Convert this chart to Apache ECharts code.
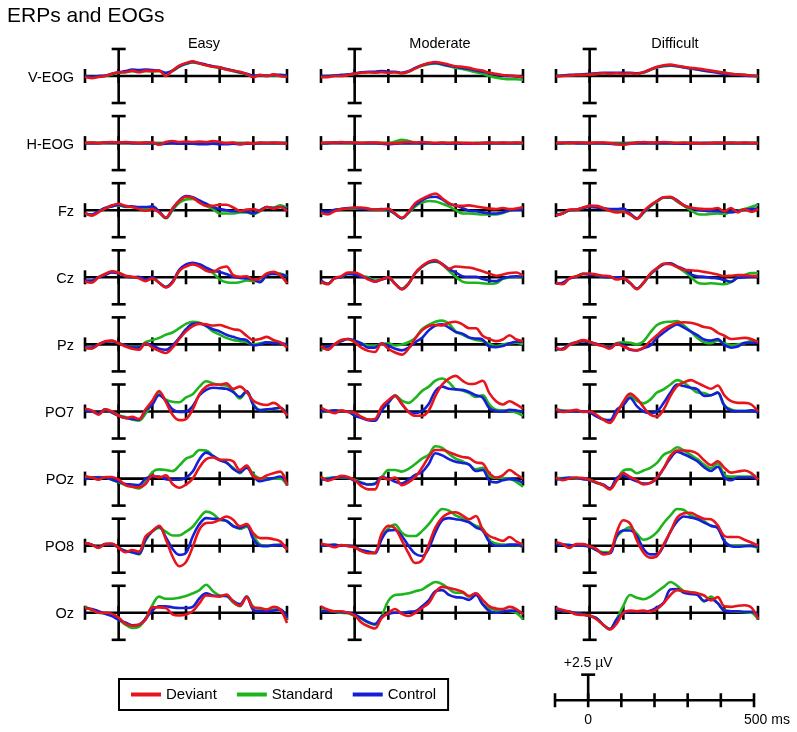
<!DOCTYPE html>
<html>
<head>
<meta charset="utf-8">
<title>ERPs and EOGs</title>
<script src="https://cdn.jsdelivr.net/npm/echarts@6/dist/echarts.min.js"></script>
<style>
  html, body { margin: 0; padding: 0; background: #fff; }
  #chart { width: 797px; height: 732px; }
</style>
</head>
<body>
<div id="chart"></div>
<script>
// sample times (ms) and axis ticks
const times = [-100, -80, -60, -40, -20, 0, 20, 40, 60, 80, 100, 120, 140, 160, 180, 200,
  220, 240, 260, 280, 300, 320, 340, 360, 380, 400, 420, 440, 460, 480, 500];
const xTicks = [-100, 0, 100, 200, 300, 400, 500];
const scaleTicks = [0, 500];
const scaleUv = 2.5;

const channels = ['V-EOG', 'H-EOG', 'Fz', 'Cz', 'Pz', 'PO7', 'POz', 'PO8', 'Oz'];
const conditions = ['Easy', 'Moderate', 'Difficult'];
const groups = ['Deviant', 'Standard', 'Control'];

// amplitudes in µV, one value per sample time
const veogEasyDev = [-0.1,-0.2,-0.1,0.0,0.2,0.35,0.35,0.5,0.35,0.5,0.45,0.5,0.0,0.5,0.95,1.2,1.35,1.15,1.0,0.85,0.8,0.6,0.5,0.4,0.2,-0.1,0.1,0.0,0.15,0.0,-0.1];
const veogEasyStd = [-0.05,-0.1,-0.05,0.0,0.15,0.3,0.35,0.45,0.4,0.45,0.45,0.45,0.2,0.45,0.85,1.1,1.25,1.15,1.0,0.85,0.75,0.6,0.45,0.3,0.15,0.0,0.05,0.0,0.05,0.0,-0.05];
const veogEasyCon = [0.0,-0.1,0.0,0.05,0.2,0.35,0.45,0.6,0.55,0.6,0.55,0.5,0.3,0.5,0.9,1.15,1.3,1.2,1.05,0.9,0.8,0.65,0.5,0.35,0.2,0.05,0.05,0.05,0.1,0.1,0.05];
const veogModDev = [-0.1,-0.1,0.0,0.0,0.1,0.2,0.3,0.35,0.3,0.35,0.3,0.35,0.25,0.4,0.7,1.0,1.2,1.3,1.2,1.05,0.9,0.85,0.75,0.6,0.5,0.3,0.2,0.1,0.05,0.0,-0.1];
const veogModStd = [-0.05,0.0,0.05,0.05,0.1,0.2,0.3,0.35,0.35,0.4,0.35,0.35,0.25,0.4,0.7,0.95,1.1,1.15,1.05,0.9,0.75,0.65,0.5,0.35,0.2,0.0,-0.15,-0.25,-0.3,-0.3,-0.35];
const veogModCon = [0.0,0.0,0.05,0.1,0.15,0.25,0.35,0.4,0.4,0.45,0.4,0.4,0.3,0.45,0.75,1.0,1.15,1.2,1.1,0.95,0.85,0.75,0.65,0.5,0.4,0.25,0.15,0.05,0.0,-0.05,-0.1];
const veogDifDev = [-0.05,0.0,0.05,0.1,0.1,0.15,0.2,0.25,0.2,0.25,0.2,0.25,0.2,0.35,0.6,0.85,1.0,1.05,0.95,0.85,0.75,0.7,0.6,0.5,0.4,0.3,0.2,0.15,0.1,0.05,0.0];
const veogDifStd = [0.0,0.05,0.05,0.1,0.1,0.15,0.2,0.25,0.25,0.25,0.25,0.25,0.2,0.3,0.55,0.8,0.9,0.95,0.9,0.8,0.7,0.6,0.5,0.45,0.4,0.3,0.2,0.15,0.1,0.05,-0.1];
const veogDifCon = [0.0,0.05,0.1,0.1,0.15,0.2,0.25,0.3,0.3,0.3,0.3,0.3,0.25,0.35,0.6,0.8,0.95,1.0,0.9,0.8,0.7,0.6,0.5,0.4,0.3,0.2,0.15,0.1,0.05,0.0,0.0];

const heogEasyDev = [0.0,0.05,0.0,0.05,0.1,0.05,0.1,0.05,0.0,0.05,0.05,-0.15,0.1,0.2,0.1,0.15,0.1,0.15,0.1,0.2,0.1,0.0,0.05,-0.1,0.0,-0.05,0.05,0.0,0.05,0.0,-0.05];
const heogEasyStd = [0.0,0.05,0.0,0.05,0.05,0.05,0.05,0.0,0.0,0.05,0.0,-0.05,0.0,0.05,0.0,0.0,0.0,0.0,-0.05,0.0,-0.05,-0.05,0.0,-0.05,0.0,-0.05,0.0,0.0,0.0,0.0,0.0];
const heogEasyCon = [0.0,0.0,0.0,0.05,0.05,0.05,0.05,0.0,0.0,0.0,0.0,-0.1,-0.05,0.0,-0.05,-0.05,-0.05,-0.1,-0.1,-0.05,-0.1,-0.1,-0.05,-0.1,-0.05,-0.05,0.0,0.0,0.0,0.0,0.0];
const heogModDev = [0.0,0.05,0.05,0.1,0.05,0.05,0.0,0.05,0.05,0.0,-0.05,0.0,0.05,0.1,0.05,0.1,0.05,0.0,0.05,0.0,0.05,0.0,0.0,-0.05,0.0,0.05,0.0,0.05,0.0,0.05,0.0];
const heogModStd = [0.0,0.0,0.05,0.05,0.0,0.0,0.0,0.0,0.0,0.0,0.0,0.15,0.3,0.2,0.05,0.0,0.0,-0.05,0.0,0.0,0.0,0.0,-0.05,0.0,0.0,0.0,0.0,0.0,0.0,0.0,0.0];
const heogModCon = [0.0,0.0,0.05,0.05,0.05,0.0,0.0,0.0,0.0,-0.05,-0.1,-0.05,0.0,0.0,0.0,0.0,0.0,-0.05,0.0,-0.05,0.0,-0.05,-0.05,-0.05,0.0,0.0,0.0,0.0,0.0,0.0,0.0];
const heogDifDev = [0.0,0.05,0.0,0.05,0.05,0.0,0.05,0.05,0.0,-0.1,-0.15,-0.05,0.05,0.1,0.05,0.05,0.1,0.05,0.0,0.05,0.0,0.0,-0.05,0.0,0.05,0.0,0.05,0.0,0.05,0.0,0.0];
const heogDifStd = [0.0,0.0,0.0,0.05,0.0,0.0,0.0,0.0,-0.05,-0.05,-0.05,0.0,0.05,0.05,0.0,0.0,0.0,0.0,0.0,0.0,0.0,-0.05,0.0,0.0,0.0,0.0,0.0,0.0,0.0,0.0,0.0];
const heogDifCon = [0.0,0.0,0.05,0.0,0.0,0.0,0.0,0.0,-0.05,-0.1,-0.1,-0.05,0.0,0.0,0.0,0.0,0.0,0.0,-0.05,-0.05,0.0,0.0,0.0,0.0,0.0,0.0,0.0,0.0,0.0,0.0,0.0];

const fzEasyDev = [-0.25,-0.5,-0.2,0.15,0.45,0.6,0.4,0.3,0.1,-0.05,0.1,-0.2,-0.7,0.2,0.85,1.25,1.15,0.7,0.4,0.4,0.5,0.5,0.25,-0.05,0.05,0.1,-0.05,0.3,0.15,0.3,-0.1];
const fzEasyStd = [-0.3,-0.45,-0.1,0.2,0.4,0.45,0.3,0.3,0.2,0.15,0.2,-0.2,-0.75,0.0,0.7,1.0,1.05,0.8,0.4,0.1,-0.3,-0.3,-0.3,-0.2,-0.2,-0.35,-0.1,0.3,0.25,0.45,0.2];
const fzEasyCon = [-0.3,-0.4,-0.1,0.2,0.35,0.5,0.35,0.35,0.3,0.3,0.35,-0.1,-0.7,0.1,0.9,1.3,1.2,0.9,0.6,0.3,0.1,0.0,-0.1,-0.1,-0.15,-0.3,0.0,0.3,0.2,0.3,0.1];
const fzModDev = [-0.25,-0.4,-0.1,0.1,0.15,0.25,0.25,0.15,0.05,0.05,0.15,-0.3,-0.7,-0.15,0.65,1.05,1.35,1.55,1.1,0.65,0.4,0.4,0.45,0.35,0.25,0.15,0.1,0.2,0.1,0.15,0.3];
const fzModStd = [-0.3,-0.3,0.0,0.1,0.15,0.15,0.15,0.1,0.0,0.05,0.0,-0.35,-0.75,-0.25,0.35,0.7,0.85,0.8,0.6,0.35,0.0,-0.3,-0.3,-0.35,-0.4,-0.4,-0.4,-0.25,-0.05,0.1,0.1];
const fzModCon = [-0.1,-0.15,0.05,0.1,0.2,0.2,0.15,0.1,0.05,0.1,0.05,-0.35,-0.75,-0.2,0.5,0.9,1.2,1.25,1.0,0.6,0.45,0.2,-0.05,-0.1,-0.2,-0.3,-0.3,-0.2,0.0,0.05,0.05];
const fzDifDev = [-0.5,-0.3,0.05,0.05,0.25,0.4,0.4,0.2,-0.05,-0.2,-0.15,-0.4,-0.8,-0.1,0.45,0.85,1.2,1.25,0.85,0.45,0.25,0.15,0.1,0.1,0.2,-0.1,0.2,-0.2,0.1,-0.15,0.1];
const fzDifStd = [-0.45,-0.3,0.0,0.05,0.2,0.4,0.35,0.2,0.05,0.0,0.05,-0.35,-0.8,-0.25,0.35,0.8,1.15,1.15,0.8,0.4,0.0,-0.35,-0.4,-0.35,-0.3,-0.35,-0.15,-0.05,0.1,0.3,0.5];
const fzDifCon = [-0.4,-0.3,0.0,0.05,0.2,0.3,0.25,0.15,0.1,0.1,0.15,-0.3,-0.75,-0.2,0.4,0.85,1.2,1.2,0.9,0.45,0.2,0.05,-0.05,-0.1,-0.1,-0.15,-0.2,-0.1,0.05,0.1,0.15];

const czEasyDev = [-0.4,-0.5,0.0,0.3,0.55,0.4,0.15,0.05,-0.1,-0.35,-0.1,-0.5,-0.95,-0.5,0.6,1.0,1.2,1.0,0.6,0.5,0.85,1.0,0.2,0.05,0.1,-0.25,-0.1,0.35,0.5,0.2,-0.55];
const czEasyStd = [-0.35,-0.4,0.0,0.3,0.5,0.45,0.1,0.0,0.0,-0.25,-0.1,-0.5,-0.9,-0.45,0.6,1.1,1.3,1.15,0.8,0.4,-0.2,-0.45,-0.5,-0.45,-0.3,-0.35,-0.35,0.2,0.4,0.35,0.1];
const czEasyCon = [-0.3,-0.3,0.0,0.2,0.45,0.35,0.1,0.0,0.05,-0.2,0.0,-0.5,-0.9,-0.4,0.7,1.2,1.35,1.2,0.9,0.6,0.5,0.3,0.05,-0.05,-0.1,-0.2,-0.45,0.2,0.3,0.25,0.1];
const czModDev = [-0.4,-0.65,-0.1,0.1,0.45,0.45,0.2,-0.2,-0.4,-0.2,0.0,-0.6,-1.1,-0.6,0.4,1.05,1.45,1.6,1.2,0.8,1.0,0.95,0.9,0.75,0.55,0.35,0.15,0.25,0.4,0.45,0.15];
const czModStd = [-0.45,-0.6,-0.1,0.0,0.3,0.3,0.1,0.0,-0.3,-0.2,0.0,-0.6,-1.05,-0.55,0.35,0.95,1.35,1.45,1.2,0.6,0.05,-0.4,-0.5,-0.5,-0.55,-0.6,-0.55,-0.15,0.0,0.05,0.0];
const czModCon = [-0.3,-0.6,-0.1,0.0,0.3,0.25,0.05,-0.1,-0.4,-0.2,-0.05,-0.6,-1.1,-0.6,0.4,1.0,1.4,1.5,1.25,0.75,0.45,0.1,0.05,0.05,-0.15,-0.3,-0.35,-0.1,0.05,0.1,0.05];
const czDifDev = [-0.5,-0.65,-0.1,0.1,0.3,0.35,0.25,0.15,0.1,-0.2,-0.1,-0.5,-1.1,-0.5,0.35,0.85,1.25,1.2,0.95,0.7,0.65,0.6,0.5,0.4,0.25,0.1,0.15,0.2,0.2,0.15,0.1];
const czDifStd = [-0.55,-0.55,-0.1,0.05,0.35,0.3,0.2,0.05,0.0,-0.1,-0.1,-0.5,-1.05,-0.55,0.25,0.8,1.25,1.25,0.95,0.55,0.05,-0.5,-0.6,-0.55,-0.6,-0.65,-0.45,0.0,0.2,0.4,0.4];
const czDifCon = [-0.6,-0.5,-0.1,0.05,0.3,0.25,0.2,0.05,0.0,0.0,-0.1,-0.55,-1.05,-0.5,0.3,0.8,1.2,1.3,1.0,0.75,0.3,0.1,0.05,-0.05,-0.1,-0.25,-0.4,-0.05,0.0,0.05,0.05];

const pzEasyDev = [-0.3,-0.4,0.0,0.3,0.35,0.1,-0.2,-0.4,-0.5,0.1,-0.3,-0.6,-0.8,-0.3,0.5,1.2,1.7,1.9,1.85,1.75,1.8,1.6,1.4,1.3,0.8,0.4,0.5,0.7,0.4,0.2,-0.3];
const pzEasyStd = [-0.35,-0.35,0.0,0.25,0.3,0.1,-0.1,-0.25,-0.25,0.2,0.4,0.6,0.9,1.1,1.5,1.9,2.1,2.0,1.7,1.2,0.9,0.6,0.4,0.3,0.2,0.0,0.1,0.2,0.2,0.1,-0.1];
const pzEasyCon = [-0.3,-0.3,0.0,0.25,0.3,0.1,-0.1,-0.3,-0.3,0.1,-0.1,-0.4,-0.5,-0.1,0.6,1.4,1.9,1.95,1.7,1.4,1.2,0.9,0.7,0.5,0.4,-0.1,0.0,0.2,0.1,0.1,0.0];
const pzModDev = [-0.15,-0.5,0.0,0.4,0.5,0.2,-0.3,-0.6,-0.7,0.1,-0.4,-0.75,-0.95,-0.4,0.55,1.3,1.7,1.8,1.75,2.0,2.1,1.85,1.5,1.5,0.8,0.5,0.3,0.45,0.85,0.45,0.3];
const pzModStd = [-0.45,-0.3,0.0,0.3,0.5,0.3,0.1,-0.1,-0.1,0.0,0.1,-0.1,0.0,0.2,0.6,1.4,1.8,2.1,2.2,1.9,1.2,0.9,0.6,0.4,0.3,0.05,-0.15,0.0,0.1,0.15,0.0];
const pzModCon = [-0.3,-0.2,0.0,0.3,0.5,0.35,0.1,-0.3,-0.3,0.1,-0.1,-0.4,-0.55,-0.3,0.2,0.6,1.3,1.75,1.85,1.55,1.15,1.0,0.65,0.55,0.45,-0.2,-0.25,-0.15,0.1,0.25,0.25];
const pzDifDev = [-0.3,-0.5,-0.05,0.2,0.4,0.25,0.0,-0.15,-0.4,0.05,-0.2,-0.45,-0.55,-0.3,0.3,0.85,1.4,1.75,2.0,2.05,2.0,1.85,1.6,1.5,1.1,0.8,0.5,0.55,0.6,0.5,0.2];
const pzDifStd = [-0.45,-0.4,0.0,0.15,0.3,0.2,0.0,-0.1,-0.3,0.1,0.2,0.15,0.0,0.3,1.1,1.8,2.05,2.1,2.15,1.75,1.2,0.6,0.2,0.1,0.35,0.1,-0.05,0.0,0.1,0.3,0.25];
const pzDifCon = [-0.45,-0.4,0.0,0.2,0.3,0.2,0.05,-0.15,-0.3,0.05,-0.05,-0.5,-0.55,-0.35,-0.1,0.6,1.1,1.55,1.85,1.55,1.2,0.85,0.45,0.35,0.5,-0.05,-0.3,-0.2,0.15,0.15,0.15];

const po7EasyDev = [0.25,0.1,-0.3,0.2,0.0,-0.4,-0.6,-0.5,-0.7,0.2,1.0,1.9,0.9,-0.3,-0.8,-0.7,0.2,1.6,2.3,2.5,2.5,2.6,2.1,2.3,1.8,1.0,0.7,0.6,0.8,0.4,-0.4];
const po7EasyStd = [0.2,0.05,-0.2,0.15,-0.05,-0.35,-0.5,-0.75,-0.85,-0.2,0.8,1.7,1.1,0.9,0.85,1.3,1.6,2.3,2.8,2.6,2.45,2.4,1.9,1.2,1.85,0.7,0.15,0.15,0.25,0.35,-0.35];
const po7EasyCon = [0.1,0.0,-0.15,0.2,-0.1,-0.4,-0.6,-0.7,-0.75,0.1,0.65,1.5,1.0,0.2,-0.05,0.0,0.5,1.5,2.0,2.2,2.15,2.1,1.8,1.35,1.9,0.6,0.1,0.2,0.25,0.35,-0.3];
const po7ModDev = [0.35,0.05,-0.15,0.1,-0.05,-0.1,-0.5,-0.75,-0.7,0.45,1.05,1.45,0.7,-0.05,-0.4,-0.4,0.1,1.45,2.5,3.05,3.3,2.85,2.55,2.6,2.85,1.7,0.95,0.65,0.95,0.65,0.25];
const po7ModStd = [-0.05,0.0,0.1,0.05,0.0,-0.3,-0.5,-0.75,-0.8,0.2,0.85,1.5,1.0,0.8,1.25,1.9,2.3,2.85,3.05,2.7,2.05,1.95,1.7,1.35,1.5,0.65,0.15,0.1,0.05,-0.1,-0.4];
const po7ModCon = [0.0,0.05,0.1,0.05,0.0,-0.4,-0.6,-0.8,-0.85,0.1,0.8,1.45,0.7,0.0,-0.15,0.05,0.7,1.9,2.3,2.1,2.05,2.0,1.8,1.5,1.3,0.3,0.05,0.0,0.15,0.1,0.0];
const po7DifDev = [0.25,-0.05,0.05,0.15,-0.05,0.0,-0.3,-0.75,-1.05,-0.2,0.9,1.65,1.2,0.4,-0.3,-0.45,0.2,1.45,2.35,2.7,2.9,2.65,2.35,2.1,2.4,1.5,0.95,0.8,0.8,0.65,0.0];
const po7DifStd = [0.2,0.1,0.05,0.0,0.0,-0.05,-0.4,-0.7,-0.9,-0.1,0.85,1.45,1.0,0.75,1.1,1.75,2.05,2.5,2.9,2.65,2.2,1.75,1.7,1.5,1.75,0.55,0.2,0.05,0.05,0.1,-0.05];
const po7DifCon = [0.1,0.05,0.05,0.0,0.0,-0.1,-0.45,-0.75,-0.8,0.15,0.6,1.25,0.5,0.0,-0.15,0.0,0.8,1.75,2.5,2.35,2.2,2.05,1.45,1.5,1.75,0.55,0.1,0.05,0.05,0.1,-0.1];

const pozEasyDev = [0.25,0.1,-0.1,0.15,0.15,-0.1,-0.6,-0.75,-0.8,-0.5,0.3,0.1,0.3,-0.5,-0.85,-0.55,0.0,1.05,1.8,1.95,1.75,1.75,1.6,0.8,1.2,0.2,0.0,0.3,0.5,0.65,-0.6];
const pozEasyStd = [0.0,0.1,0.15,0.1,-0.1,-0.35,-0.6,-0.75,-0.9,-0.35,0.6,0.85,0.8,0.7,1.2,1.85,2.1,2.65,2.6,2.1,1.75,1.45,1.0,0.5,1.15,0.4,0.0,-0.05,0.0,0.0,-0.6];
const pozEasyCon = [-0.1,0.1,0.1,0.1,-0.1,-0.3,-0.5,-0.55,-0.6,0.0,0.2,0.2,-0.05,-0.1,-0.1,0.1,0.65,1.8,2.4,2.1,1.7,1.5,0.9,0.6,1.0,0.2,-0.25,-0.1,0.05,0.2,-0.45];
const pozModDev = [0.2,-0.2,0.0,0.25,0.15,-0.15,-0.7,-1.0,-1.0,0.15,-0.1,0.1,-0.6,-0.35,0.15,1.0,2.0,2.65,2.65,2.45,2.2,2.0,1.9,1.5,1.4,0.5,0.1,0.3,0.8,0.4,0.0];
const pozModStd = [0.0,0.05,0.1,0.1,0.05,-0.1,-0.35,-0.55,-0.45,0.1,0.8,0.8,0.65,0.9,1.35,1.85,2.2,3.0,2.85,2.3,1.85,1.6,1.3,0.85,1.0,0.25,0.05,0.05,0.0,-0.3,-0.75];
const pozModCon = [-0.1,-0.05,0.1,0.15,0.1,-0.2,-0.4,-0.55,-0.5,0.15,0.0,-0.3,-0.45,-0.1,0.35,0.6,1.35,2.35,2.15,1.8,1.55,1.45,1.3,0.7,0.8,-0.2,-0.35,-0.15,-0.05,-0.1,-0.4];
const pozDifDev = [0.1,-0.15,0.0,0.1,0.05,-0.1,-0.35,-0.6,-1.0,-0.2,0.5,0.15,-0.15,-0.55,-0.4,0.1,0.95,2.1,2.6,2.6,2.55,2.3,1.7,1.25,1.6,1.0,0.55,0.65,0.75,0.5,-0.1];
const pozDifStd = [0.05,0.05,0.05,0.0,0.0,-0.1,-0.35,-0.6,-0.95,-0.15,0.75,0.85,0.5,0.75,1.0,1.45,2.2,2.5,2.9,2.6,2.2,1.8,1.3,0.95,1.4,0.35,0.2,0.2,0.2,0.2,-0.1];
const pozDifCon = [-0.1,0.0,0.1,0.05,-0.05,-0.15,-0.4,-0.55,-0.9,0.05,0.3,0.0,-0.25,-0.45,-0.4,0.05,0.95,1.9,2.5,2.25,1.95,1.6,1.05,0.7,1.1,0.1,-0.15,0.1,0.1,0.1,-0.1];

const po8EasyDev = [0.25,0.1,-0.2,0.15,0.2,-0.2,-0.6,-0.4,-0.55,0.85,1.35,1.85,0.6,-1.0,-1.9,-1.5,-0.1,1.5,2.1,2.15,2.4,2.7,2.4,1.8,2.0,1.15,0.7,0.7,0.6,0.4,-0.4];
const po8EasyStd = [0.25,0.1,-0.15,0.15,0.15,-0.2,-0.5,-0.6,-0.8,0.5,1.3,1.65,1.3,0.95,0.95,1.3,1.75,2.55,3.15,2.95,2.4,2.3,1.85,1.55,1.75,0.95,0.1,0.0,0.05,0.1,-0.25];
const po8EasyCon = [0.25,0.1,-0.15,0.15,0.15,-0.2,-0.5,-0.6,-0.75,0.6,1.35,1.75,0.8,-0.3,-0.85,-0.65,0.85,2.0,2.55,2.5,2.45,2.3,1.8,1.65,1.9,0.6,0.0,-0.05,0.05,0.05,-0.25];
const po8ModDev = [0.2,0.05,-0.15,0.05,-0.05,-0.15,-0.5,-0.7,-0.65,1.1,1.85,1.6,0.5,-0.7,-1.6,-1.35,0.1,1.7,2.6,3.0,3.1,2.8,2.45,2.75,1.5,0.9,0.65,0.45,0.8,0.4,0.1];
const po8ModStd = [0.05,0.05,0.05,0.0,0.0,-0.15,-0.45,-0.55,-0.65,0.75,1.6,1.95,1.2,0.9,0.9,1.35,2.0,2.8,3.4,3.25,2.8,2.55,2.2,1.85,1.6,0.5,0.2,0.1,0.05,0.05,-0.1];
const po8ModCon = [0.0,0.05,0.1,0.0,0.0,-0.15,-0.4,-0.55,-0.7,0.6,1.4,1.45,0.9,0.0,-0.75,-0.95,-0.25,1.25,2.35,2.55,2.45,2.35,2.15,1.7,1.4,0.35,0.0,0.0,0.1,0.1,-0.05];
const po8DifDev = [0.35,0.15,-0.2,0.15,0.15,-0.05,-0.3,-0.8,-0.65,1.2,2.35,2.05,0.5,-0.65,-1.1,-0.95,0.15,1.3,2.6,3.0,3.05,2.75,2.5,2.45,1.9,0.9,0.8,0.8,0.55,0.3,0.0];
const po8DifStd = [0.2,0.1,0.05,0.0,0.0,-0.1,-0.4,-0.6,-0.55,0.8,1.4,1.7,1.1,0.55,0.75,1.25,2.1,2.8,3.4,3.3,2.8,2.55,2.25,1.85,1.7,0.45,0.0,0.0,0.0,-0.05,-0.2];
const po8DifCon = [0.15,0.1,0.05,0.0,0.0,-0.1,-0.4,-0.7,-0.7,0.9,1.4,1.4,0.9,-0.3,-0.8,-0.8,0.0,1.3,2.25,2.7,2.6,2.45,2.15,1.85,1.65,0.4,-0.05,-0.1,-0.05,0.0,-0.1];

const ozEasyDev = [0.45,0.3,0.0,0.0,-0.1,-0.45,-1.0,-1.2,-1.1,-0.65,0.5,0.5,0.45,-0.15,-0.25,-0.15,0.15,0.9,1.6,1.55,1.5,1.7,1.05,0.65,1.45,0.5,0.45,0.3,0.55,0.3,-0.95];
const ozEasyStd = [0.6,0.25,0.0,-0.05,-0.15,-0.6,-1.1,-1.4,-1.3,-0.55,0.7,1.5,1.3,1.3,1.4,1.55,1.8,2.1,2.6,2.0,1.6,1.55,0.95,0.6,1.5,0.55,0.35,0.3,0.3,0.3,-0.6];
const ozEasyCon = [0.45,0.35,0.15,-0.1,-0.3,-0.65,-0.9,-1.15,-1.1,-0.55,0.2,0.6,0.6,0.5,0.45,0.45,0.55,1.35,1.8,1.6,1.55,1.55,1.1,0.8,1.5,0.25,0.15,0.15,0.2,0.3,-0.5];
const ozModDev = [0.6,0.3,0.15,0.15,0.0,-0.25,-0.9,-1.25,-1.45,-0.5,0.0,0.35,-0.1,-0.3,0.0,0.45,0.9,1.9,2.4,2.3,2.15,1.95,1.55,1.8,1.2,0.6,0.4,0.35,0.55,0.35,-0.15];
const ozModStd = [0.3,0.2,0.1,0.0,-0.05,-0.3,-0.55,-0.9,-1.1,-0.3,1.1,1.65,1.7,1.8,2.0,2.15,2.55,2.85,2.65,2.2,1.85,1.85,1.5,1.75,0.8,0.4,0.25,0.2,0.15,0.0,-0.6];
const ozModCon = [0.15,0.15,0.15,0.05,0.0,-0.15,-0.5,-0.85,-1.05,-0.35,-0.1,0.0,0.0,0.1,0.15,0.6,1.15,2.0,2.1,1.65,1.45,1.4,1.2,1.65,0.8,0.15,0.0,0.1,0.2,0.2,-0.1];
const ozDifDev = [0.45,0.25,0.1,-0.15,-0.2,-0.25,-0.6,-1.1,-1.55,-1.0,0.0,0.2,0.15,0.2,0.1,0.35,0.9,1.65,2.1,2.0,1.9,1.8,1.6,1.15,1.45,0.6,0.55,0.65,0.7,0.5,-0.55];
const ozDifStd = [0.3,0.15,0.1,-0.05,-0.15,-0.3,-0.5,-1.1,-1.5,-0.6,0.65,1.65,1.4,1.25,1.5,1.95,2.4,2.85,2.5,2.0,1.9,1.8,1.05,1.5,0.9,0.25,0.15,0.1,0.05,0.0,-0.6];
const ozDifCon = [0.3,0.15,0.1,-0.05,-0.15,-0.3,-0.5,-1.1,-1.5,-0.6,-0.05,0.1,0.15,0.1,0.2,0.5,0.95,2.15,2.2,1.85,1.75,1.65,1.1,1.25,0.9,0.2,0.15,0.15,0.1,0.1,-0.15];

// channel -> [easy, moderate, difficult] -> [deviant, standard, control]
const waves = {
  'V-EOG': [[veogEasyDev, veogEasyStd, veogEasyCon], [veogModDev, veogModStd, veogModCon], [veogDifDev, veogDifStd, veogDifCon]],
  'H-EOG': [[heogEasyDev, heogEasyStd, heogEasyCon], [heogModDev, heogModStd, heogModCon], [heogDifDev, heogDifStd, heogDifCon]],
  'Fz': [[fzEasyDev, fzEasyStd, fzEasyCon], [fzModDev, fzModStd, fzModCon], [fzDifDev, fzDifStd, fzDifCon]],
  'Cz': [[czEasyDev, czEasyStd, czEasyCon], [czModDev, czModStd, czModCon], [czDifDev, czDifStd, czDifCon]],
  'Pz': [[pzEasyDev, pzEasyStd, pzEasyCon], [pzModDev, pzModStd, pzModCon], [pzDifDev, pzDifStd, pzDifCon]],
  'PO7': [[po7EasyDev, po7EasyStd, po7EasyCon], [po7ModDev, po7ModStd, po7ModCon], [po7DifDev, po7DifStd, po7DifCon]],
  'POz': [[pozEasyDev, pozEasyStd, pozEasyCon], [pozModDev, pozModStd, pozModCon], [pozDifDev, pozDifStd, pozDifCon]],
  'PO8': [[po8EasyDev, po8EasyStd, po8EasyCon], [po8ModDev, po8ModStd, po8ModCon], [po8DifDev, po8DifStd, po8DifCon]],
  'Oz': [[ozEasyDev, ozEasyStd, ozEasyCon], [ozModDev, ozModStd, ozModCon], [ozDifDev, ozDifStd, ozDifCon]],
};

const colors = ['#e8141c', '#1db41d', '#1420d8'];
const font = "'Liberation Sans', Arial, sans-serif";

// layout
const colLeft = [85, 321, 556];
const panelW = 202;
const firstBase = 76;
const rowStep = 67.1;
const halfH = 33.5;
const yLim = 3.1;
const axisW = 2.6;

let myChart = null;

function frameRender(full) {
  return function (params, api) {
    const st = { stroke: '#000', lineWidth: axisW };
    const kids = [];
    const a = api.coord([xTicks[0], 0]);
    const b = api.coord([xTicks[xTicks.length - 1], 0]);
    kids.push({ type: 'line', shape: { x1: a[0], y1: a[1], x2: b[0], y2: b[1] }, style: st });
    xTicks.forEach((t) => {
      const p = api.coord([t, 0]);
      kids.push({ type: 'line', shape: { x1: p[0], y1: p[1] - 7, x2: p[0], y2: p[1] + 7 }, style: st });
    });
    const top = api.coord([0, scaleUv]);
    const bot = api.coord([0, full ? -scaleUv : 0]);
    kids.push({ type: 'line', shape: { x1: top[0], y1: top[1], x2: bot[0], y2: bot[1] }, style: st });
    kids.push({ type: 'line', shape: { x1: top[0] - 7, y1: top[1], x2: top[0] + 7, y2: top[1] }, style: st });
    if (full) {
      kids.push({ type: 'line', shape: { x1: bot[0] - 7, y1: bot[1], x2: bot[0] + 7, y2: bot[1] }, style: st });
    } else {
      kids.push({
        type: 'text', x: top[0], y: top[1] - 5,
        style: { text: '+' + scaleUv + ' µV', textAlign: 'center', textVerticalAlign: 'bottom', font: '14px ' + font, fill: '#000' },
      });
      const z0 = api.coord([scaleTicks[0], 0]);
      const z1 = api.coord([scaleTicks[1], 0]);
      kids.push({
        type: 'text', x: z0[0], y: z0[1] + 13,
        style: { text: String(scaleTicks[0]), textAlign: 'center', textVerticalAlign: 'top', font: '14px ' + font, fill: '#000' },
      });
      kids.push({
        type: 'text', x: z1[0] - 10, y: z1[1] + 13,
        style: { text: scaleTicks[1] + ' ms', textAlign: 'left', textVerticalAlign: 'top', font: '14px ' + font, fill: '#000' },
      });
    }
    return { type: 'group', children: kids };
  };
}

function setOption() {
  const grid = [];
  const xAxis = [];
  const yAxis = [];
  const series = [];
  const graphic = [];

  channels.forEach((ch, r) => {
    const base = firstBase + r * rowStep;
    graphic.push({
      type: 'text', right: 797 - 74, top: base - 6,
      style: { text: ch, font: '14.5px ' + font, fill: '#000' },
    });
    conditions.forEach((cond, c) => {
      const k = grid.length;
      grid.push({ left: colLeft[c], top: base - halfH, width: panelW, height: halfH * 2 });
      xAxis.push({ gridIndex: k, type: 'value', min: xTicks[0], max: xTicks[xTicks.length - 1], show: false });
      yAxis.push({ gridIndex: k, type: 'value', min: -yLim, max: yLim, show: false });
      series.push({
        type: 'custom', xAxisIndex: k, yAxisIndex: k, data: [0], silent: true, z: 1,
        renderItem: frameRender(true),
      });
      [1, 2, 0].forEach((g) => {
        series.push({
          type: 'line', name: groups[g], xAxisIndex: k, yAxisIndex: k,
          data: times.map((t, i) => [t, waves[ch][c][g][i]]),
          smooth: 0.35, showSymbol: false, clip: false, silent: true,
          lineStyle: { color: colors[g], width: 2.6 },
          itemStyle: { color: colors[g] },
          z: 2 + (g === 0 ? 2 : g === 2 ? 1 : 0),
        });
      });
    });
  });

  // time / amplitude scale bar
  const sk = grid.length;
  grid.push({ left: 555, top: 702 - halfH, width: 199, height: halfH * 2 });
  xAxis.push({ gridIndex: sk, type: 'value', min: xTicks[0], max: xTicks[xTicks.length - 1], show: false });
  yAxis.push({ gridIndex: sk, type: 'value', min: -yLim, max: yLim, show: false });
  series.push({
    type: 'custom', xAxisIndex: sk, yAxisIndex: sk, data: [0], silent: true, z: 1,
    renderItem: frameRender(false),
  });

  const titles = [{
    text: 'ERPs and EOGs', left: 2, top: 1,
    textStyle: { fontSize: 21, fontWeight: 'normal', fontFamily: font, color: '#000' },
  }];
  conditions.forEach((cond, c) => {
    titles.push({
      text: cond, left: colLeft[c] + 114, top: 31, textAlign: 'center',
      textStyle: { fontSize: 14.5, fontWeight: 'normal', fontFamily: font, color: '#000' },
    });
  });

  const option = {
    backgroundColor: '#fff',
    animation: false,
    title: titles,
    legend: {
      data: groups, left: 119, top: 679,
      icon: 'rect', itemWidth: 30, itemHeight: 4, itemGap: 20,
      borderColor: '#000', borderWidth: 2, borderRadius: 0, padding: [8, 12],
      textStyle: { fontSize: 15, fontFamily: font, color: '#000' },
      selectedMode: false,
    },
    grid, xAxis, yAxis, series, graphic,
  };
  myChart.setOption(option);
}

function initChart() {
  const dom = document.getElementById('chart');
  myChart = echarts.init(dom, null, { renderer: 'canvas' });
  setOption();
}

initChart();
</script>
</body>
</html>
